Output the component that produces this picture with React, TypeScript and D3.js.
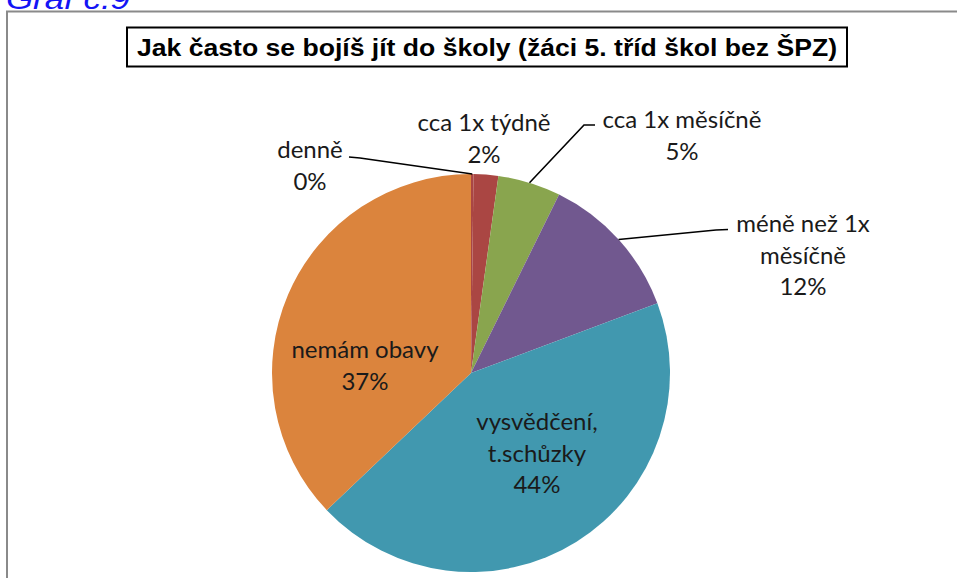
import React from "react";
import * as d3 from "d3";

const categories = [
  "denně",
  "cca 1x týdně",
  "cca 1x měsíčně",
  "méně než 1x měsíčně",
  "vysvědčení, t.schůzky",
  "nemám obavy",
];
const values = [0.2, 2.0, 5.1, 12.0, 43.6, 37.1];
const labelLines = [
  ["denně"],
  ["cca 1x týdně"],
  ["cca 1x měsíčně"],
  ["méně než 1x", "měsíčně"],
  ["vysvědčení,", "t.schůzky"],
  ["nemám obavy"],
];
const colors = ["#AA4643", "#AA4643", "#89A54E", "#71588F", "#4198AF", "#DB843D"];
const title = "Jak často se bojíš jít do školy (žáci 5. tříd škol bez ŠPZ)";

// layout for labels: center x, first baseline y, optional leader polyline start points
const labelLayout = [
  { x: 310, y: 158, leader: [[349, 157], [360, 158]] },
  { x: 484, y: 131, leader: null },
  { x: 682, y: 128, leader: [[595, 125], [584, 125]] },
  { x: 803, y: 232, leader: [[728, 229.5], [716, 230]] },
  { x: 537, y: 430, leader: null },
  { x: 365, y: 358, leader: null },
];

const W = 957;
const H = 578;
const cx = 471;
const cy = 373;
const R = 199;
const lineH = 31.5;

export default function App() {
  const pie = d3.pie<number>().sort(null).value((d) => d)(values);
  const arc = d3.arc<d3.PieArcDatum<number>>().innerRadius(0).outerRadius(R);
  const edge = d3.arc<d3.PieArcDatum<number>>().innerRadius(R).outerRadius(R);
  const total = d3.sum(values);
  const fmt = (v: number) => `${Math.round((v / total) * 100)}%`;

  return (
    <svg
      width={W}
      height={H}
      style={{ position: "absolute", left: 0, top: 0, background: "#fff" }}
      fontFamily="Lato, 'Noto Sans', sans-serif"
    >
      <rect x={0} y={0} width={W} height={H} fill="#fff" />
      <text
        x={6}
        y={9}
        fontFamily="'Liberation Sans', Arial, sans-serif"
        fontStyle="italic"
        fontSize={30}
        fill="#1414F5"
        textLength={124}
        lengthAdjust="spacingAndGlyphs"
      >
        Graf č.9
      </text>
      <rect x={7} y={11.5} width={1000} height={700} fill="#fff" stroke="#8a8a8a" strokeWidth={2} />
      <rect x={127} y={27.5} width={720} height={39} fill="#fff" stroke="#000" strokeWidth={2} />
      <text
        x={487}
        y={56}
        textAnchor="middle"
        fontFamily="'Liberation Sans', Arial, sans-serif"
        fontWeight="bold"
        fontSize={23.5}
        fill="#000"
        textLength={700}
        lengthAdjust="spacingAndGlyphs"
      >
        {title}
      </text>
      <g transform={`translate(${cx},${cy})`}>
        {pie.map((d, i) => (
          <path key={categories[i]} d={arc(d) || ""} fill={colors[i]} />
        ))}
      </g>
      {pie.map((d, i) => {
        const L = labelLayout[i];
        if (!L.leader) return null;
        const [ex, ey] = edge.centroid(d);
        const pts = [...L.leader, [cx + ex, cy + ey]];
        return (
          <polyline
            key={"l" + i}
            points={pts.map((p) => p.join(",")).join(" ")}
            fill="none"
            stroke="#000"
            strokeWidth={1.6}
          />
        );
      })}
      {pie.map((d, i) => {
        const L = labelLayout[i];
        const lines = [...labelLines[i], fmt(values[i])];
        return (
          <text key={"t" + i} textAnchor="middle" fontSize={24} fill="#1a1a1a">
            {lines.map((s, j) => (
              <tspan key={j} x={L.x} y={L.y + j * lineH}>
                {s}
              </tspan>
            ))}
          </text>
        );
      })}
    </svg>
  );
}
